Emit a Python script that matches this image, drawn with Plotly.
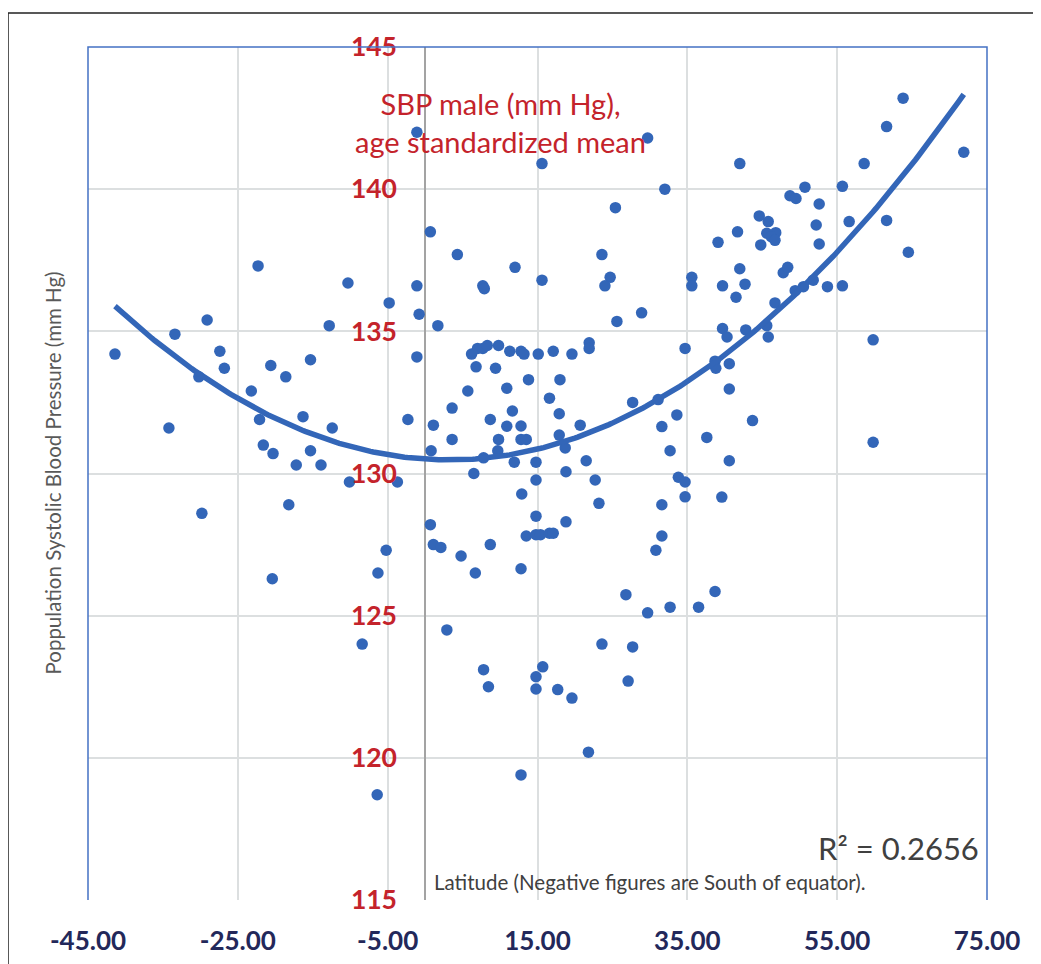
import numpy as np
import plotly.graph_objects as go

# ---- data (latitude, male SBP age-standardized mean) ----
lat_west = [-41.4, -33.4, -34.2, -29.8, -29.1, -30.2, -27.4, -26.8, -23.2, -22.3,
            -22.1, -21.6, -20.3, -20.4, -20.6, -18.6, -18.2, -17.2, -16.3, -15.3,
            -15.3, -13.9, -12.8, -12.4, -10.3, -10.1, -8.4, -6.3, -5.2, -6.4,
            -4.8, -3.7, -2.3, -1.1, -1.1, -0.8, -1.1, 0.7, 0.7, 0.8,
            1.1, 1.1, 2.1, 1.7, 2.9, 3.6, 3.6, 4.3, 4.8, 5.7,
            6.7, 6.5]
sbp_west = [134.2, 134.9, 131.6, 128.6, 135.4, 133.4, 134.3, 133.7, 132.9, 137.3,
            131.9, 131.0, 130.7, 126.3, 133.8, 133.4, 128.9, 130.3, 132.0, 130.8,
            134.0, 130.3, 135.2, 131.6, 136.7, 129.7, 124.0, 126.5, 127.3, 118.7,
            136.0, 129.7, 131.9, 142.0, 136.6, 135.6, 134.1, 138.5, 128.2, 130.8,
            131.7, 127.5, 127.4, 135.2, 124.5, 132.3, 131.2, 137.7, 127.1, 132.9,
            126.5, 130.0]

lat_mid = [6.2, 7.0, 7.7, 8.3, 9.8, 11.3, 12.8, 13.2, 15.1, 17.1,
           19.6, 21.9, 21.9, 29.7, 15.6, 32.0, 25.4, 23.6, 12.0, 15.6,
           24.7, 24.0, 35.6, 35.6, 7.7, 7.9, 25.6, 28.9, 34.7, 6.8,
           9.4, 13.8, 18.0, 10.9, 16.6, 11.65, 17.9, 27.7, 31.1, 33.6,
           8.7, 10.9, 12.8, 20.7, 31.6, 9.8, 12.8, 13.5, 17.9, 18.7,
           9.7, 7.8, 11.9, 14.8, 21.5, 32.7, 18.8, 14.8, 22.7, 33.8,
           34.7, 12.9, 23.2, 34.7, 31.6, 14.8, 18.8, 13.5, 14.8, 15.4,
           16.6, 17.1, 31.6, 30.8, 8.7, 12.8, 26.8, 29.7, 32.7, 36.5,
           23.6, 27.7, 27.1, 7.8, 8.45, 15.7, 14.8, 14.8, 17.7, 19.6,
           21.8, 12.8]
sbp_mid = [134.2, 134.4, 134.4, 134.5, 134.5, 134.3, 134.3, 134.2, 134.2, 134.3,
           134.2, 134.6, 134.4, 141.8, 140.9, 140.0, 139.35, 137.7, 137.25, 136.8,
           136.9, 136.6, 136.9, 136.6, 136.6, 136.5, 135.35, 135.65, 134.4, 133.75,
           133.7, 133.3, 133.3, 133.0, 132.65, 132.2, 132.1, 132.5, 132.6, 132.06,
           131.9, 131.66, 131.67, 131.7, 131.65, 131.2, 131.2, 131.2, 131.35, 130.9,
           130.8, 130.55, 130.4, 130.4, 130.45, 130.8, 130.06, 129.77, 129.77, 129.87,
           129.7, 129.28, 128.95, 129.18, 128.9, 128.5, 128.3, 127.8, 127.85, 127.85,
           127.9, 127.9, 127.8, 127.3, 127.5, 126.65, 125.74, 125.1, 125.3, 125.3,
           124.0, 123.9, 122.7, 123.1, 122.5, 123.2, 122.85, 122.42, 122.4, 122.1,
           120.2, 119.4]

lat_east = [63.8, 61.6, 71.9, 42.0, 58.6, 55.7, 50.7, 48.7, 49.5, 52.6,
            44.6, 45.8, 41.7, 52.2, 56.6, 61.6, 45.6, 46.8, 46.2, 46.7,
            39.1, 44.8, 52.6, 64.5, 42.0, 47.8, 48.4, 39.7, 42.7, 41.5,
            49.4, 50.5, 51.8, 53.7, 55.7, 46.7, 39.7, 40.3, 42.8, 45.6,
            45.8, 59.8, 38.7, 38.8, 40.6, 40.6, 43.7, 37.6, 59.8, 40.6,
            39.6, 38.7]
sbp_east = [143.2, 142.2, 141.3, 140.9, 140.9, 140.1, 140.07, 139.77, 139.67, 139.48,
            139.06, 138.86, 138.5, 138.74, 138.86, 138.9, 138.45, 138.47, 138.33, 138.2,
            138.13, 138.04, 138.07, 137.78, 137.2, 137.06, 137.25, 136.6, 136.66, 136.2,
            136.43, 136.57, 136.8, 136.57, 136.6, 136.0, 135.1, 134.8, 135.05, 135.2,
            134.8, 134.7, 133.95, 133.7, 133.86, 132.97, 131.86, 131.27, 131.1, 130.45,
            129.17, 125.85]

x_ticks = [-45, -25, -5, 15, 35, 55, 75]
y_ticks = [115, 120, 125, 130, 135, 140, 145]

lat = lat_west + lat_mid + lat_east
sbp = sbp_west + sbp_mid + sbp_east

# second-order polynomial trendline fitted to the data
coef = np.polyfit(lat, sbp, 2)
xs = np.linspace(min(lat), max(lat), 300)
ys = np.polyval(coef, xs)

BLUE = "#3366b8"
RED = "#c4232b"
NAVY = "#23285a"
GRID = "#dcdfe0"

fig = go.Figure()
fig.add_trace(go.Scatter(x=lat, y=sbp, mode="markers",
                         marker=dict(size=11.5, color=BLUE), showlegend=False, hoverinfo="skip"))
fig.add_trace(go.Scatter(x=xs, y=ys, mode="lines",
                         line=dict(color=BLUE, width=5.5), showlegend=False, hoverinfo="skip"))

# page body adds an 8px offset; margins are set so the plot lands where intended
OFF = 8
W, H = 1041, 964
L, R, T, B = 80, 62, 39, 72
pw, ph = W - L - R, H - T - B

def px_x(p):
    return (p - OFF - L) / pw

def px_y(p):
    return (H - B - (p - OFF)) / ph

fig.update_layout(
    width=W, height=H,
    margin=dict(l=L, r=R, t=T, b=B),
    paper_bgcolor="white", plot_bgcolor="white",
    font=dict(family="Lato"),
    showlegend=False,
    xaxis=dict(range=[-45, 75], tickvals=x_ticks, ticktext=[f"{v:.2f}" for v in x_ticks],
               showgrid=True, gridcolor=GRID, gridwidth=1.5,
               zeroline=True, zerolinecolor="#a3a3a3", zerolinewidth=1.5,
               showline=False, ticks="", ticklabelstandoff=23,
               tickfont=dict(family="Lato", size=26, color=NAVY, weight="bold")),
    yaxis=dict(range=[115, 145], tickvals=y_ticks, anchor="free", position=px_x(397),
               showgrid=True, gridcolor=GRID, gridwidth=1.5,
               zeroline=False, showline=False, ticks="",
               tickfont=dict(family="Lato", size=26.5, color=RED, weight="bold")),
    shapes=[
        dict(type="path", xref="paper", yref="paper", path="M0,0 L0,1 L1,1 L1,0",
             line=dict(color="#4472c4", width=1.5), layer="above"),
        dict(type="rect", xref="paper", yref="paper",
             x0=px_x(8), x1=px_x(1060), y0=px_y(990), y1=px_y(13),
             line=dict(color="#222222", width=1.5), layer="above"),
    ],
    annotations=[
        dict(text="SBP male (mm Hg),<br>age standardized mean", x=10.0, y=142.35,
             xref="x", yref="y", xanchor="center", yanchor="middle", showarrow=False,
             font=dict(family="Lato", size=29, color=RED)),
        dict(text="R\u00b2 = 0.2656", x=74.2, y=116.83, xref="x", yref="y",
             xanchor="right", yanchor="middle", showarrow=False,
             font=dict(family="Lato", size=31, color="#404040")),
        dict(text="Latitude (Negative figures are South of equator).", x=0.95, y=115.63,
             xref="x", yref="y", xanchor="left", yanchor="middle", showarrow=False,
             font=dict(family="Lato", size=20.5, color="#404040")),
        dict(text="Poppulation Systolic Blood Pressure (mm Hg)", x=px_x(52), y=0.5,
             xref="paper", yref="paper", xanchor="center", yanchor="middle",
             textangle=-90, showarrow=False,
             font=dict(family="Lato", size=20.5, color="#595959")),
    ],
)

fig.write_html("out.html")
